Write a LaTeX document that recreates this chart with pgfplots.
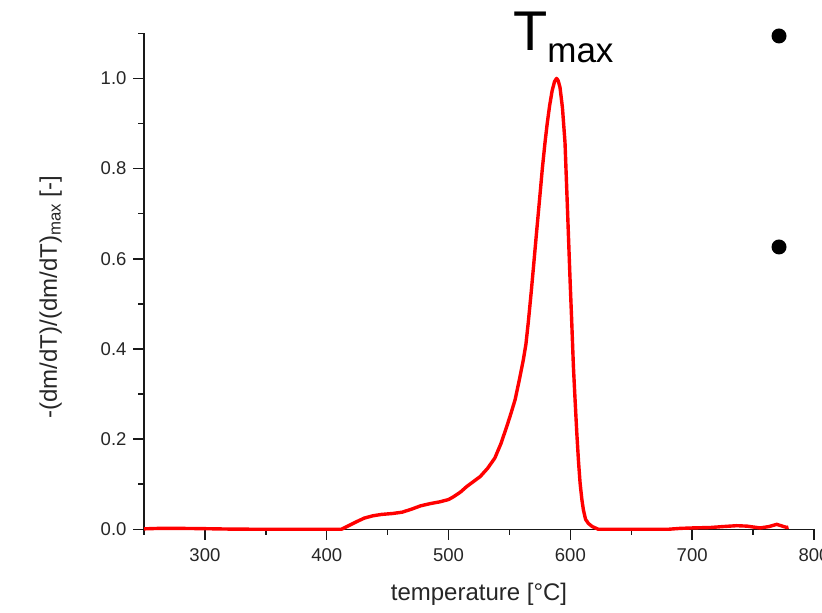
\documentclass[border=0pt]{standalone}
\usepackage{fontspec}
\setmainfont{Liberation Sans}
\usepackage{pgfplots}
\pgfplotsset{compat=1.18}
\definecolor{curve}{RGB}{255,0,0}
\definecolor{txt}{RGB}{38,38,38}
\begin{document}
\begin{tikzpicture}
\begin{axis}[
  at={(0pt,0pt)}, anchor=south west,
  scale only axis,
  width=670pt, height=496pt,
  xmin=250, xmax=800, ymin=0, ymax=1.1,
  axis x line=bottom, axis y line=left,
  axis line style={-, line width=1.5pt, black!90},
  every tick/.style={line width=1.5pt, black!90},
  tick align=outside,
  major tick length=10.5pt, minor tick length=5.5pt,
  xtick={300,400,...,800},
  minor xtick={250,350,...,750},
  ytick={0,0.2,...,1.0},
  minor ytick={0.1,0.3,...,0.9,1.1},
  /pgf/number format/assume math mode=true,
  ticklabel style={font=\fontsize{18.5}{18.5}\selectfont, text=txt},
  yticklabel style={xshift=-3.5pt, /pgf/number format/fixed, /pgf/number format/fixed zerofill, /pgf/number format/precision=1},
  xticklabel style={yshift=-5pt, /pgf/number format/1000 sep={}},
  xlabel={temperature [°C]},
  ylabel={-(dm/dT)/(dm/dT)\textsubscript{max} [-]},
  label style={font=\fontsize{24}{24}\selectfont, text=txt},
  xlabel style={at={(axis description cs:0.5,-0.1431)}, anchor=base},
  ylabel style={at={(axis description cs:-0.1299,0.468)}, anchor=base, rotate=0},
  clip=false,
]
\addplot[curve, line width=3.4pt, line join=round] coordinates {
(250,0.001) (262,0.002) (280,0.002) (297,0.0015) (320,0.0005) (349,0) (380,0) (412,0)
(418,0.008) (424.6,0.017) (431,0.025) (438,0.030) (445,0.033) (454,0.035) (462,0.038)
(470,0.045) (477,0.052) (485,0.057) (493,0.061) (500,0.066) (504,0.072) (510,0.083)
(515,0.095) (520,0.105) (526,0.117) (532,0.135) (538,0.158) (543,0.19) (547.8,0.228)
(551,0.255) (554.6,0.287) (558,0.33) (561.4,0.376) (563.5,0.41) (565.5,0.46) (568,0.53)
(570,0.59) (572.3,0.66) (575,0.74) (577,0.80) (579.2,0.858) (581,0.90) (583,0.94)
(585,0.972) (587,0.993) (588.7,1.0) (590,0.995) (591.5,0.98) (593.5,0.935) (595.6,0.858)
(597.5,0.72) (599.8,0.55) (601,0.469) (602.5,0.361) (604,0.28) (605.3,0.213) (606.7,0.15)
(608,0.102) (609.5,0.065) (610.7,0.043) (612.5,0.022) (614.8,0.013) (618,0.006) (623,0)
(640,0) (680,0) (690,0.002) (700,0.003) (715,0.004) (725,0.006) (736.5,0.008) (745,0.007)
(755.7,0.003) (763,0.006) (769.5,0.011) (774,0.007) (777.7,0.004) (779,0.005)
};
\node[anchor=base west, inner sep=0pt, text=black] at (axis description cs:0.5507,0.9663)
  {\fontsize{56}{56}\selectfont T\raisebox{-12pt}{\fontsize{35}{35}\selectfont max}};
\node[circle, fill=black, inner sep=0pt, minimum size=15pt] at (axis description cs:0.9478,0.9946) {};
\node[circle, fill=black, inner sep=0pt, minimum size=15pt] at (axis description cs:0.9478,0.5692) {};
\end{axis}
\pgfresetboundingbox
\path[use as bounding box] (-144pt,-83.7pt) rectangle (678pt,529.3pt);
\end{tikzpicture}
\end{document}
